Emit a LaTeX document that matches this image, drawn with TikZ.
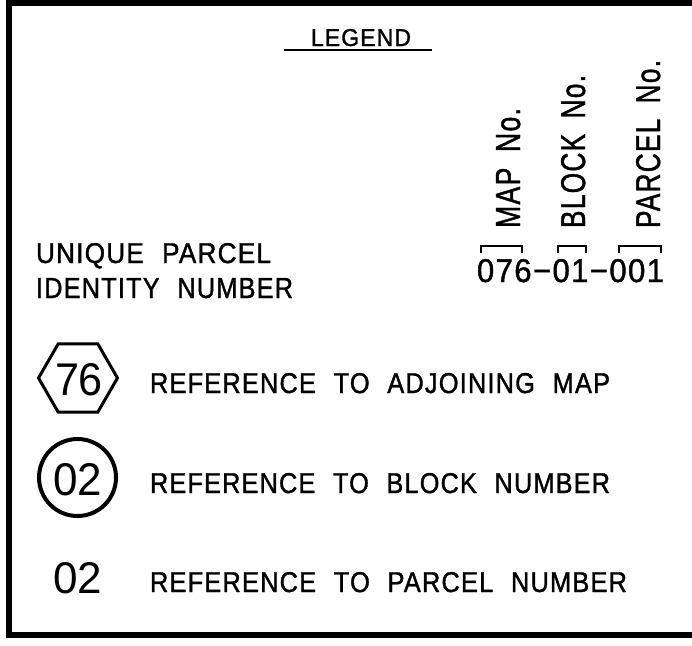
\documentclass[tikz,border=0pt]{standalone}
\usepackage{fontspec}
\setmainfont{Liberation Sans}[FakeStretch=0.86, LetterSpace=4, FakeBold=1.2]
\newfontfamily\thinfont{Liberation Sans}
\usepackage{graphicx}
\newcommand{\fitbox}[3]{\resizebox{#1}{#2}{#3}}
\begin{document}
\begin{tikzpicture}[x=1pt,y=-1pt,
  txt/.style={anchor=base west, inner sep=0pt, outer sep=0pt},
  vtxt/.style={anchor=base west, inner sep=0pt, outer sep=0pt, rotate=90},
  framestyle/.style={line width=6pt},
  bracketstyle/.style={line width=2.5pt},
  hexstyle/.style={line width=3pt, line join=miter},
  circstyle/.style={line width=4pt}]
\useasboundingbox (0,0) rectangle (692,645);
\fill[white] (0,0) rectangle (692,645);
% frame
\draw[framestyle] (692,3) -- (9,3) -- (9,635) -- (692,635);
% title
\node[txt] (legend) at (311,46) {\fitbox{100pt}{17pt}{LEGEND}};
\draw[line width=2pt] (284,50) -- (432,50);
% unique parcel identity number
\node[txt] (upin1) at (36,263) {\fitbox{235pt}{20pt}{UNIQUE\hspace{0.6em}PARCEL}};
\node[txt] (upin2) at (36,298) {\fitbox{257pt}{20pt}{IDENTITY\hspace{0.6em}NUMBER}};
\node[txt] (num) at (477,282) {\fitbox{187pt}{23pt}{076−01−001}};
% brackets
\draw[bracketstyle] (481,253) -- (481,246) -- (522,246) -- (522,253);
\draw[bracketstyle] (558,253) -- (558,246) -- (586,246) -- (586,253);
\draw[bracketstyle] (619,253) -- (619,246) -- (661,246) -- (661,253);
% vertical labels
\node[vtxt] (mapno) at (520,228) {\fitbox{120pt}{24pt}{MAP\hspace{0.5em}No.}};
\node[vtxt] (blockno) at (585,228) {\fitbox{153pt}{24pt}{BLOCK\hspace{0.5em}No.}};
\node[vtxt] (parcelno) at (660,228) {\fitbox{168pt}{24pt}{PARCEL\hspace{0.5em}No.}};
% hexagon symbol
\draw[hexstyle] (78,378) +(0:39.5) -- +(60:39.5) -- +(120:39.5) -- +(180:39.5) -- +(240:39.5) -- +(300:39.5) -- cycle;
\node[txt] (hexnum) at (55,395) {\fitbox{48pt}{32pt}{\thinfont 76}};
\node[txt] (ref1) at (150,393) {\fitbox{460pt}{20pt}{REFERENCE\hspace{0.6em}TO\hspace{0.6em}ADJOINING\hspace{0.6em}MAP}};
% circle symbol
\draw[circstyle] (77.5,477.5) circle (38.5);
\node[txt] (circnum) at (53,495) {\fitbox{49pt}{32pt}{\thinfont 02}};
\node[txt] (ref2) at (150,493) {\fitbox{460pt}{20pt}{REFERENCE\hspace{0.6em}TO\hspace{0.6em}BLOCK\hspace{0.6em}NUMBER}};
% plain number
\node[txt] (plainnum) at (53,593) {\fitbox{49pt}{31pt}{\thinfont 02}};
\node[txt] (ref3) at (150,592) {\fitbox{477pt}{20pt}{REFERENCE\hspace{0.6em}TO\hspace{0.6em}PARCEL\hspace{0.6em}NUMBER}};
\end{tikzpicture}
\end{document}
